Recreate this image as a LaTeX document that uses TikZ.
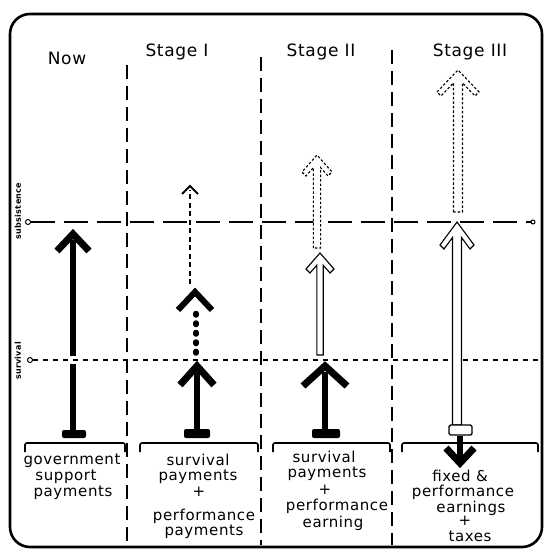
\documentclass[tikz,border=0pt]{standalone}
\usepackage{fontspec}
\setmainfont{DejaVu Sans}
\newfontfamily\hand[LetterSpace=4]{DejaVu Sans}
\begin{document}
% hollow (outlined) arrow: x, tip y, base y, head half-width, head height, shaft half-width, style
\newcommand\hollowarrow[7]{%
  \pgfmathsetmacro\hax{#1+#4-4}%
  \pgfmathsetmacro\hbx{#1-#4+4}%
  \pgfmathsetmacro\hay{#2+#5+4}%
  \pgfmathsetmacro\hjy{\hay-(#4-4-#6)*#5/#4}%
  \draw[#7] (#1-#6,#3) -- (#1-#6,\hjy) -- (\hbx,\hay) -- (#1-#4,#2+#5) -- (#1,#2)
    -- (#1+#4,#2+#5) -- (\hax,\hay) -- (#1+#6,\hjy) -- (#1+#6,#3) -- cycle;}
% solid black arrow head: x, tip y, half-width, height, line width
\newcommand\chevron[5]{%
  \draw[line width=#5, line join=miter, miter limit=3] (#1-#3,#2+#4) -- (#1,#2+1) -- (#1+#3,#2+#4);}
\begin{tikzpicture}[x=1pt, y=-1pt,
  frame/.style={line width=2.6, rounded corners=20},
  divider/.style={line width=1.3, dash pattern=on 14 off 7},
  subsline/.style={line width=1.5, dash pattern=on 24 off 9},
  survline/.style={line width=1.2, dash pattern=on 5 off 5},
  endring/.style={circle, draw, line width=1, inner sep=0, minimum size=5},
  head/.style={font=\hand\fontsize{17}{17}\selectfont, inner sep=0},
  lab/.style={font=\hand\fontsize{15}{15}\selectfont, inner sep=0},
  sidelab/.style={font=\hand\bfseries\fontsize{8}{8}\selectfont, inner sep=0, rotate=90},
  bracket/.style={line width=1.6, rounded corners=2},
  bold/.style={line width=6},
  outl/.style={line width=1.1, fill=white},
  outldot/.style={line width=1.1, fill=white, dash pattern=on 2.5 off 2}]
\useasboundingbox (0,0) rectangle (547,553);

% outer frame
\draw[frame] (10,14) rectangle (542,547);

% column dividers
\coordinate (d1t) at (127,65);  \coordinate (d1b) at (127,545);
\coordinate (d2t) at (261,57);  \coordinate (d2b) at (261,545);
\coordinate (d3t) at (392,50);  \coordinate (d3b) at (392,545);
\draw[divider] (d1t) -- (d1b);
\draw[divider] (d2t) -- (d2b);
\draw[divider] (d3t) -- (d3b);

% column headings
\node[head] (hnow) at (67,58) {Now};
\node[head] (hone) at (177,52) {Stage I};
\node[head] (htwo) at (321,52) {Stage II};
\node[head] (hthree) at (470,52) {Stage III};

% levels
\node[endring, fill=white] (subsL) at (28,222) {};
\coordinate (subsR) at (533,222);
\draw[subsline] (subsL) -- (subsR);
\node[endring, minimum size=4, fill=white] at (subsR) {};
\node[endring, fill=white] (survL) at (30,360) {};
\coordinate (survR) at (538,360);
\draw[survline] (survL) -- (survR);
\node[sidelab] (subslab) at (18,211) {subsistence};
\node[sidelab] (survlab) at (18,361) {survival};

% ---- Now: government support
\draw[bold] (73,433) -- (73,364);
\draw[bold] (73,356) -- (73,240);
\chevron{73}{233}{16}{18}{7}
\fill[rounded corners=2] (62,430) rectangle (86,438);

% ---- Stage I
\draw[bold] (197,433) -- (197,372);
\chevron{197}{365}{17}{20}{7}
\fill[rounded corners=2] (184,429) rectangle (210,438);
\draw[line width=5.5, line cap=round, dash pattern=on 1.5 off 8] (196,353) -- (196,313);
\chevron{195}{291}{17}{19}{6}
\draw[line width=1.8, dash pattern=on 5 off 3.5] (190,284) -- (190,190);
\draw[line width=1.8] (182,194) -- (190,186) -- (198,194);

% ---- Stage II
\draw[bold] (325,433) -- (325,372);
\chevron{325}{365}{22}{21}{7}
\fill[rounded corners=2] (312,429) rectangle (340,438);
\hollowarrow{320}{253}{355}{14}{16}{3.2}{outl}
\hollowarrow{317}{155}{248}{15}{17}{3.6}{outldot}

% ---- Stage III
\hollowarrow{457}{222}{425}{17}{23}{4.5}{outl}
\hollowarrow{458}{70}{212}{21}{22}{4.5}{outldot}
\draw[line width=1.4, fill=white, rounded corners=1.5] (449,425) rectangle (472,435);
\draw[bold] (460,436) -- (460,460);
\draw[line width=7, line join=miter, miter limit=3] (446,448) -- (460,463) -- (474,448);

% ---- brackets
\draw[bracket] (25,452) -- (25,443) -- (125,443) -- (125,452);
\draw[bracket] (140,452) -- (140,443) -- (258,443) -- (258,452);
\draw[bracket] (273,452) -- (273,443) -- (390,443) -- (390,452);
\draw[bracket] (402,452) -- (402,443) -- (538,443) -- (538,452);

% ---- captions
\node[lab] (n1) at (72,461) {government};
\node[lab] (n2) at (66,477) {support};
\node[lab] (n3) at (73,493) {payments};

\node[lab] (a1) at (198,460) {survival};
\node[lab] (a2) at (198,477) {payments};
\node[lab] (a3) at (199,492) {+};
\node[lab] (a4) at (204,516) {performance};
\node[lab] (a5) at (204,532) {payments};

\node[lab] (b1) at (324,457) {survival};
\node[lab] (b2) at (327,474) {payments};
\node[lab] (b3) at (325,490) {+};
\node[lab] (b4) at (337,506) {performance};
\node[lab] (b5) at (333,523) {earning};

\node[lab] (c1) at (460,476) {fixed \&};
\node[lab] (c2) at (463,492) {performance};
\node[lab] (c3) at (471,508) {earnings};
\node[lab] (c4) at (465,521) {+};
\node[lab] (c5) at (470,536) {taxes};
\end{tikzpicture}
\end{document}
